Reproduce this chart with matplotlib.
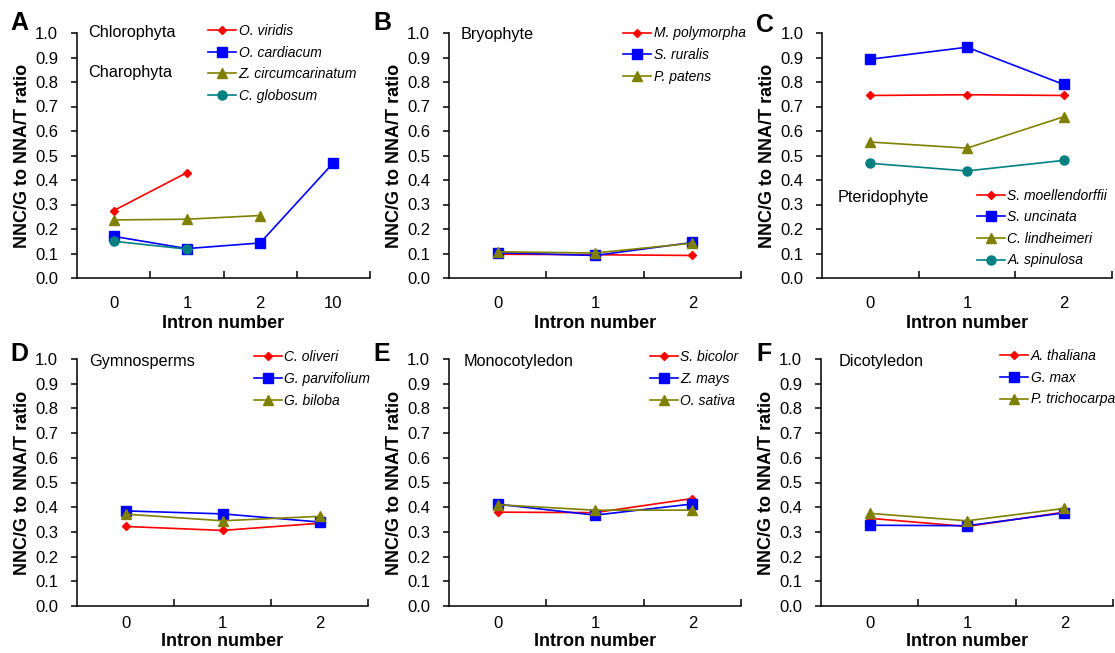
import matplotlib
matplotlib.use("Agg")
import matplotlib.pyplot as plt
from matplotlib.ticker import FixedLocator, FormatStrFormatter

plt.rcParams['font.family'] = ['Liberation Sans', 'DejaVu Sans']

# --- data ---
cats_A = ['0', '1', '2', '10']
cats = ['0', '1', '2']

A_names = ['O. viridis', 'O. cardiacum', 'Z. circumcarinatum', 'C. globosum']
A_vals = [[0.275, 0.43], [0.17, 0.12, 0.143, 0.47], [0.237, 0.24, 0.255], [0.15, 0.118]]

B_names = ['M. polymorpha', 'S. ruralis', 'P. patens']
B_vals = [[0.097, 0.095, 0.092], [0.103, 0.092, 0.145], [0.107, 0.102, 0.142]]

C_names = ['S. moellendorffii', 'S. uncinata', 'C. lindheimeri', 'A. spinulosa']
C_vals = [[0.745, 0.748, 0.745], [0.893, 0.942, 0.79], [0.555, 0.53, 0.658], [0.468, 0.437, 0.48]]

D_names = ['C. oliveri', 'G. parvifolium', 'G. biloba']
D_vals = [[0.322, 0.306, 0.335], [0.385, 0.373, 0.34], [0.372, 0.345, 0.363]]

E_names = ['S. bicolor', 'Z. mays', 'O. sativa']
E_vals = [[0.38, 0.378, 0.435], [0.412, 0.368, 0.413], [0.41, 0.388, 0.388]]

F_names = ['A. thaliana', 'G. max', 'P. trichocarpa']
F_vals = [[0.355, 0.322, 0.38], [0.327, 0.325, 0.377], [0.375, 0.345, 0.395]]

colors = ['#ff0000', '#0000ff', '#808000', '#008080']
markers = ['D', 's', '^', 'o']
msizes = [4.5, 7, 7, 6.5]

W, H = 1115, 653
fig = plt.figure(figsize=(W / 100, H / 100), dpi=100)


def make_ax(l, r, t, b):
    return fig.add_axes([l / W, (H - b) / H, (r - l) / W, (b - t) / H])


def panel(ax, cat_labels, names, vals, letter, groups, leg_xy, letter_xy, xpad, lpad):
    n = len(cat_labels)
    for i, (nm, v) in enumerate(zip(names, vals)):
        xs = [k + 0.5 for k in range(len(v))]
        ax.plot(xs, v, color=colors[i], marker=markers[i], ms=msizes[i],
                lw=1.2, label=nm)
    ax.set_xlim(0, n)
    ax.set_ylim(0, 1.0)
    ax.set_xticks([k + 0.5 for k in range(n)])
    ax.set_xticklabels(cat_labels)
    ax.xaxis.set_minor_locator(FixedLocator(list(range(1, n + 1))))
    ax.tick_params(axis='x', which='major', length=0, pad=xpad, labelsize=12)
    ax.tick_params(axis='x', which='minor', direction='in', length=5, width=1.1)
    ax.set_yticks([i / 10 for i in range(11)])
    ax.yaxis.set_major_formatter(FormatStrFormatter('%.1f'))
    ax.tick_params(axis='y', direction='out', length=4, width=1.1, pad=9.5, labelsize=12)
    for s in ['top', 'right']:
        ax.spines[s].set_visible(False)
    for s in ['left', 'bottom']:
        ax.spines[s].set_linewidth(1.1)
    ax.set_xlabel('Intron number', fontsize=13, fontweight='bold', labelpad=lpad)
    ax.set_ylabel('NNC/G to NNA/T ratio', fontsize=13, fontweight='bold', labelpad=3)
    for txt, gx, gy in groups:
        ax.text(gx, gy, txt, transform=ax.transAxes, fontsize=11.7, va='center', ha='left')
    ax.legend(loc='upper left', bbox_to_anchor=leg_xy, frameon=False,
              prop={'style': 'italic', 'size': 10}, handlelength=2.0,
              handletextpad=0.2, labelspacing=0.55, borderpad=0,
              borderaxespad=0)
    fig.text(letter_xy[0] / W, (H - letter_xy[1]) / H, letter, fontsize=18,
             fontweight='bold', ha='left', va='top')


axA = make_ax(77, 370, 33, 278)
axB = make_ax(449, 741, 33, 278)
axC = make_ax(822, 1112, 33, 278)
axD = make_ax(77, 368, 359, 606)
axE = make_ax(449, 741, 359, 606)
axF = make_ax(821, 1113, 359, 606)

panel(axA, cats_A, A_names, A_vals, 'A',
      [('Chlorophyta', 0.038, 1.0), ('Charophyta', 0.038, 0.84)], (0.447, 1.037), (10, 11), 13, 3)
panel(axB, cats, B_names, B_vals, 'B',
      [('Bryophyte', 0.04, 0.995)], (0.596, 1.027), (373, 11), 13, 3)
panel(axC, cats, C_names, C_vals, 'C',
      [('Pteridophyte', 0.055, 0.33)], (0.534, 0.365), (756, 13), 13, 3)
panel(axD, cats, D_names, D_vals, 'D',
      [('Gymnosperms', 0.04, 0.99)], (0.608, 1.035), (10, 342), 7, 2)
panel(axE, cats, E_names, E_vals, 'E',
      [('Monocotyledon', 0.05, 0.99)], (0.688, 1.035), (373, 342), 7, 2)
panel(axF, cats, F_names, F_vals, 'F',
      [('Dicotyledon', 0.06, 0.99)], (0.613, 1.04), (756, 342), 7, 2)

fig.savefig('out.png', dpi=100)
